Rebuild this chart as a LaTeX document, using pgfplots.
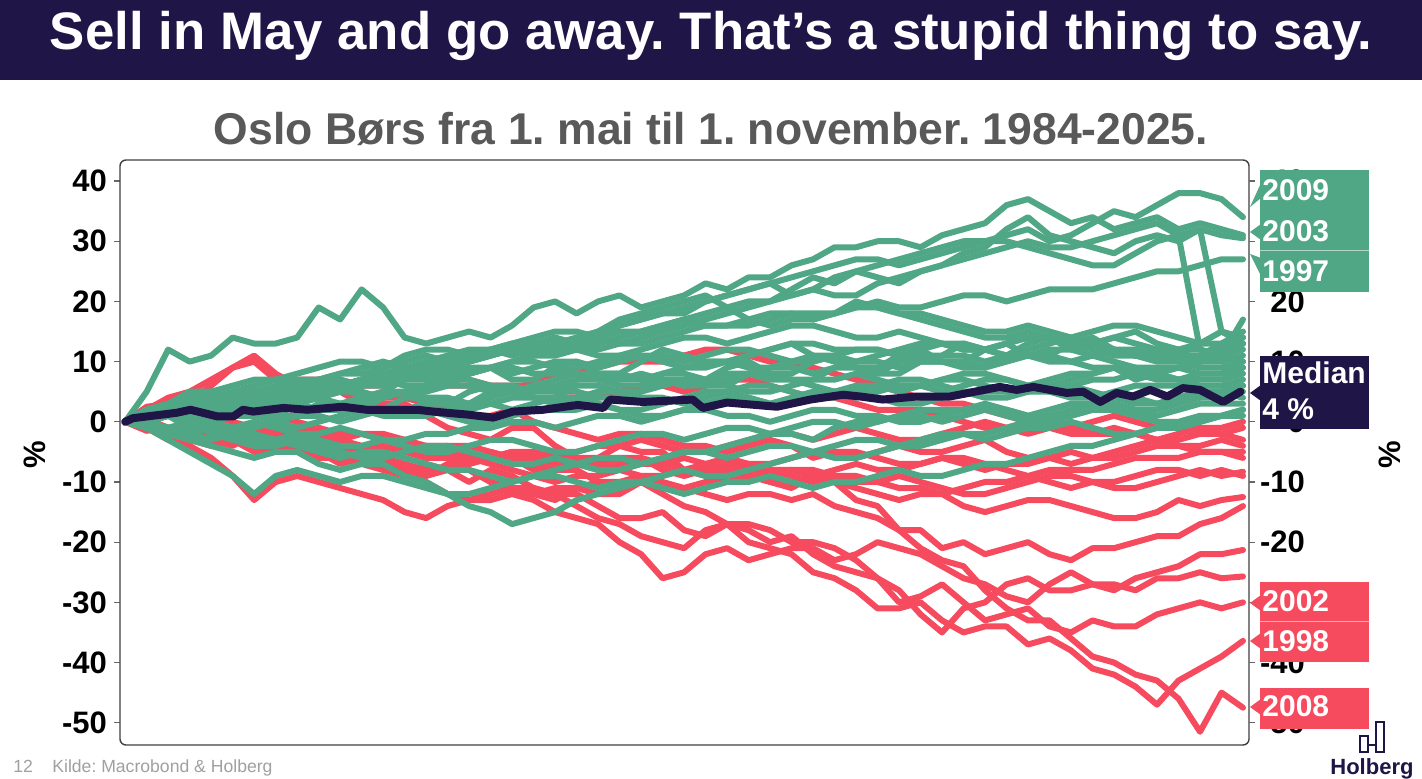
\documentclass[border=0pt]{standalone}
\usepackage{pgfplots}
\pgfplotsset{compat=1.18}
\usepackage{fontspec}
\setmainfont{Liberation Sans}
\frenchspacing
\definecolor{navy}{RGB}{32,21,71}
\definecolor{gr}{RGB}{80,167,133}
\definecolor{rd}{RGB}{246,74,94}
\definecolor{subgray}{RGB}{89,89,89}
\definecolor{footgray}{RGB}{160,160,160}
\pgfplotsset{
  rl/.style={color=rd, line width=3pt, line join=round, line cap=round},
  gl/.style={color=gr, line width=3pt, line join=round, line cap=round},
  table/yrow/.style={x expr=\coordindex*2.5, y index=0, header=false, row sep=\\},
  tl/.style={font=\fontsize{15.5}{16}\selectfont\bfseries, text=black},
}
\begin{document}
\begin{tikzpicture}
\useasboundingbox (0,0) rectangle (711pt,389.5pt);
\fill[white] (0,0) rectangle (711pt,389.5pt);
\begin{axis}[
  at={(60pt,17pt)}, anchor=south west, scale only axis,
  width=564.5pt, height=292.5pt,
  xmin=-0.6, xmax=130.7, ymin=-53.7, ymax=43.5,
  xtick=\empty, ytick={-50,-40,...,40}, ytick pos=left,
  axis line style={draw=none},
  tick align=outside, major tick length=3pt,
  ytick style={black!60, line width=0.6pt},
  yticklabel style={tl},
  /pgf/number format/assume math mode=true,
  clip=false,
]
% red series
\addplot[rl] table[yrow]{0\\2.5\\3\\3.5\\6\\9\\10\\7\\7\\7\\5\\3\\3\\3\\1\\-1\\-2\\-3\\-1\\-1\\-4\\-6\\-6\\-4\\-5\\-5\\-8\\-9\\-7\\-7\\-10\\-11\\-9\\-10\\-13\\-14\\-18\\-21\\-23\\-24\\-28\\-31\\-33\\-33\\-36\\-39\\-40\\-42\\-43\\-46\\-51.5\\-45\\-47.5\\};
\addplot[rl] table[yrow]{0\\0.5\\-1\\-2\\-2\\-1\\-1\\-3\\-3\\-2\\-4\\-5\\-3\\-3\\-5\\-6\\-7\\-5\\-6\\-8\\-8\\-8\\-10\\-11\\-10\\-12\\-14\\-15\\-17\\-20\\-21\\-22\\-25\\-26\\-28\\-31\\-31\\-30\\-33\\-35\\-34\\-34\\-37\\-36\\-38\\-41\\-42\\-44\\-47\\-43\\-41\\-39\\-36.4\\};
\addplot[rl] table[yrow]{0\\-1.5\\-1\\-1\\-3\\-4\\-2\\-2\\-4\\-5\\-6\\-5\\-8\\-9\\-7\\-8\\-10\\-8\\-9\\-11\\-12\\-12\\-14\\-16\\-16\\-15\\-18\\-19\\-17\\-18\\-20\\-19\\-22\\-24\\-25\\-26\\-30\\-29\\-27\\-30\\-33\\-32\\-31\\-34\\-35\\-33\\-34\\-34\\-32\\-31\\-30\\-31\\-30\\};
\addplot[rl] table[yrow]{0\\-1\\-2\\-2\\-1\\-1\\-3\\-4\\-5\\-5\\-7\\-6\\-6\\-8\\-9\\-8\\-8\\-10\\-11\\-11\\-12\\-14\\-16\\-17\\-19\\-20\\-21\\-18\\-17\\-17\\-18\\-20\\-20\\-21\\-23\\-26\\-28\\-32\\-35\\-31\\-30\\-27\\-26\\-28\\-28\\-27\\-27\\-28\\-26\\-26\\-25\\-26\\-25.7\\};
\addplot[rl] table[yrow]{0\\1.5\\1\\0\\-1\\-2\\-2\\-2\\-4\\-3\\-5\\-6\\-7\\-8\\-9\\-7\\-8\\-10\\-12\\-13\\-15\\-16\\-17\\-20\\-22\\-26\\-25\\-22\\-21\\-23\\-22\\-21\\-21\\-23\\-22\\-20\\-21\\-22\\-24\\-26\\-27\\-29\\-30\\-27\\-25\\-27\\-28\\-26\\-25\\-24\\-22\\-22\\-21.3\\};
\addplot[rl] table[yrow]{0\\-1\\-1\\-2\\-3\\-3\\-5\\-5\\-4\\-6\\-6\\-7\\-8\\-8\\-10\\-12\\-13\\-12\\-11\\-12\\-13\\-11\\-12\\-12\\-10\\-11\\-11\\-12\\-13\\-12\\-12\\-13\\-12\\-14\\-15\\-16\\-18\\-18\\-21\\-20\\-22\\-21\\-20\\-22\\-23\\-21\\-21\\-20\\-19\\-19\\-17\\-16\\-14\\};
\addplot[rl] table[yrow]{0\\1\\2\\2\\1\\0\\-1\\-2\\-2\\-1\\-3\\-4\\-5\\-5\\-4\\-4\\-6\\-6\\-5\\-6\\-7\\-7\\-8\\-7\\-6\\-8\\-9\\-8\\-8\\-9\\-10\\-10\\-9\\-10\\-11\\-12\\-13\\-12\\-12\\-14\\-15\\-14\\-13\\-13\\-14\\-15\\-16\\-16\\-15\\-13\\-14\\-13\\-12.5\\};
\addplot[rl] table[yrow]{0\\0\\-1\\-2\\-2\\-1\\-1\\-2\\-3\\-4\\-5\\-4\\-4\\-5\\-6\\-6\\-7\\-6\\-5\\-7\\-8\\-7\\-7\\-8\\-9\\-9\\-8\\-7\\-6\\-7\\-8\\-9\\-10\\-9\\-9\\-10\\-11\\-11\\-12\\-11\\-10\\-10\\-9\\-10\\-11\\-10\\-10\\-9\\-8\\-8\\-9\\-8\\-9\\};
\addplot[rl] table[yrow]{0\\0\\1\\2\\3\\3\\2\\1\\0\\-1\\-2\\-2\\-3\\-4\\-5\\-4\\-4\\-5\\-6\\-6\\-5\\-6\\-7\\-6\\-6\\-7\\-8\\-8\\-7\\-8\\-9\\-8\\-8\\-9\\-10\\-10\\-9\\-10\\-11\\-12\\-12\\-11\\-10\\-9\\-9\\-10\\-11\\-11\\-10\\-9\\-8\\-9\\-8.3\\};
\addplot[rl] table[yrow]{0\\2\\4\\5\\7\\9\\11\\8\\6\\6\\5\\4\\4\\4\\3\\2\\1\\1\\2\\0\\-1\\-2\\-3\\-2\\-2\\-3\\-4\\-4\\-5\\-4\\-3\\-4\\-6\\-5\\-5\\-6\\-7\\-7\\-6\\-7\\-8\\-7\\-7\\-6\\-5\\-6\\-6\\-5\\-4\\-4\\-5\\-5\\-5\\};
\addplot[rl] table[yrow]{0\\1\\2\\2\\3\\4\\5\\5\\6\\7\\7\\6\\6\\7\\8\\8\\7\\6\\6\\6\\5\\5\\4\\5\\6\\6\\5\\6\\7\\7\\6\\5\\4\\4\\3\\2\\2\\2\\1\\0\\-1\\-1\\0\\-1\\-2\\-2\\-1\\-2\\-3\\-3\\-2\\-2\\-3\\};
\addplot[rl] table[yrow]{0\\-1\\-2\\-3\\-4\\-3\\-3\\-4\\-5\\-5\\-4\\-5\\-6\\-7\\-8\\-8\\-7\\-6\\-5\\-5\\-6\\-5\\-4\\-4\\-3\\-4\\-5\\-5\\-4\\-3\\-2\\-2\\-3\\-2\\-1\\-2\\-3\\-3\\-2\\-1\\0\\-1\\-2\\-1\\-1\\0\\1\\0\\-1\\-1\\-2\\-2\\-1\\};
\addplot[rl] table[yrow]{0\\-1\\-3\\-4\\-6\\-9\\-13\\-10\\-9\\-10\\-11\\-12\\-13\\-15\\-16\\-14\\-13\\-13\\-12\\-12\\-11\\-11\\-10\\-10\\-9\\-10\\-11\\-10\\-10\\-9\\-8\\-8\\-9\\-8\\-7\\-8\\-8\\-7\\-6\\-6\\-7\\-8\\-9\\-8\\-8\\-8\\-7\\-6\\-6\\-6\\-5\\-5\\-6\\};
\addplot[rl] table[yrow]{0\\1\\1\\0\\-1\\-2\\-2\\-1\\-1\\-2\\-3\\-2\\-2\\-3\\-4\\-5\\-6\\-7\\-8\\-9\\-10\\-9\\-9\\-8\\-7\\-7\\-6\\-7\\-8\\-7\\-7\\-6\\-5\\-5\\-6\\-5\\-4\\-5\\-5\\-4\\-3\\-5\\-6\\-6\\-7\\-6\\-5\\-4\\-3\\-4\\-4\\-3\\-4\\};
\addplot[rl] table[yrow]{0\\1\\2\\3\\4\\3\\3\\4\\5\\5\\6\\7\\8\\8\\7\\6\\6\\6\\5\\7\\8\\8\\9\\10\\10\\10\\11\\12\\12\\11\\10\\10\\9\\8\\7\\6\\5\\4\\3\\3\\2\\1\\0\\0\\-1\\-2\\-2\\-2\\-3\\-2\\-1\\-1\\0\\};
% green series
\addplot[gl] table[yrow]{0\\5\\12\\10\\11\\14\\13\\13\\14\\19\\17\\22\\19\\14\\13\\14\\15\\14\\16\\19\\20\\18\\20\\21\\19\\20\\21\\23\\22\\24\\24\\26\\27\\29\\29\\30\\30\\29\\31\\32\\33\\36\\37\\35\\33\\34\\32\\33\\34\\32\\33\\32\\31\\};
\addplot[gl] table[yrow]{0\\1\\3\\5\\5\\4\\4\\5\\6\\7\\8\\9\\10\\9\\9\\10\\11\\12\\12\\13\\14\\13\\15\\16\\17\\18\\18\\20\\21\\22\\23\\21\\22\\24\\25\\26\\27\\28\\29\\30\\30\\31\\32\\30\\31\\33\\35\\34\\36\\38\\38\\37\\34\\};
\addplot[gl] table[yrow]{0\\2\\2\\1\\1\\2\\3\\3\\4\\5\\6\\6\\7\\8\\8\\9\\10\\11\\12\\12\\13\\12\\12\\13\\14\\15\\16\\17\\18\\19\\20\\22\\24\\23\\25\\24\\23\\25\\26\\28\\29\\32\\34\\31\\30\\29\\28\\30\\31\\30\\32\\31\\30.5\\};
\addplot[gl] table[yrow]{0\\0\\1\\2\\3\\2\\2\\3\\4\\4\\5\\6\\7\\8\\9\\8\\8\\9\\10\\11\\12\\13\\14\\13\\13\\14\\15\\16\\16\\16\\17\\18\\18\\18\\19\\20\\19\\19\\20\\21\\21\\20\\21\\22\\22\\22\\23\\24\\25\\25\\26\\27\\27\\};
\addplot[gl] table[yrow]{0\\1\\2\\3\\4\\3\\3\\4\\5\\6\\7\\6\\6\\7\\8\\9\\10\\11\\12\\11\\11\\12\\13\\14\\15\\16\\17\\18\\19\\20\\20\\21\\22\\21\\21\\23\\24\\25\\26\\27\\28\\29\\30\\29\\29\\30\\31\\32\\33\\31\\12\\11\\17\\};
\addplot[gl] table[yrow]{0\\0\\1\\2\\2\\3\\4\\4\\5\\5\\6\\7\\8\\9\\10\\11\\12\\12\\11\\12\\13\\14\\15\\17\\18\\19\\20\\21\\19\\17\\16\\17\\17\\18\\20\\19\\18\\18\\17\\16\\15\\15\\16\\15\\14\\13\\12\\11\\10\\10\\11\\13\\15\\};
\addplot[gl] table[yrow]{0\\1\\1\\2\\3\\4\\5\\5\\4\\5\\6\\7\\8\\8\\9\\10\\11\\12\\13\\14\\15\\15\\14\\16\\17\\18\\19\\20\\21\\22\\23\\24\\25\\26\\27\\27\\26\\27\\28\\29\\30\\30\\29\\28\\27\\26\\26\\28\\30\\31\\32\\15\\13\\};
\addplot[gl] table[yrow]{0\\2\\3\\4\\5\\6\\7\\7\\6\\7\\8\\8\\9\\10\\11\\10\\10\\11\\12\\13\\13\\12\\11\\11\\12\\13\\14\\14\\13\\14\\15\\16\\16\\15\\14\\14\\15\\14\\13\\12\\12\\13\\14\\14\\13\\12\\11\\11\\12\\11\\10\\11\\12\\};
\addplot[gl] table[yrow]{0\\1\\2\\3\\4\\5\\6\\7\\8\\9\\10\\10\\9\\11\\12\\12\\11\\12\\13\\12\\12\\13\\14\\15\\15\\16\\17\\16\\16\\17\\18\\18\\17\\18\\19\\19\\18\\17\\16\\15\\14\\14\\15\\14\\13\\13\\14\\13\\12\\11\\11\\12\\13\\};
\addplot[gl] table[yrow]{0\\2\\3\\2\\2\\3\\4\\5\\6\\5\\5\\6\\7\\8\\9\\8\\8\\9\\10\\10\\9\\8\\7\\7\\8\\7\\6\\6\\7\\8\\9\\9\\8\\9\\10\\10\\9\\10\\11\\11\\10\\11\\12\\13\\14\\15\\16\\16\\15\\14\\13\\13\\14\\};
\addplot[gl] table[yrow]{0\\1\\1\\0\\2\\3\\1\\1\\3\\4\\2\\2\\4\\5\\3\\3\\5\\6\\6\\5\\5\\7\\7\\6\\6\\8\\8\\7\\9\\10\\8\\8\\10\\11\\9\\9\\11\\12\\10\\10\\12\\13\\11\\11\\13\\14\\12\\11\\11\\12\\13\\15\\14\\};
\addplot[gl] table[yrow]{0\\2\\2\\1\\1\\2\\3\\5\\4\\4\\6\\4\\5\\7\\7\\6\\8\\9\\7\\7\\9\\10\\8\\8\\10\\12\\11\\10\\10\\11\\12\\13\\11\\10\\9\\8\\10\\11\\11\\13\\12\\11\\13\\14\\12\\13\\14\\15\\13\\12\\12\\11\\13\\};
\addplot[gl] table[yrow]{0\\1\\1\\-1\\0\\1\\2\\3\\3\\2\\2\\3\\4\\5\\5\\6\\6\\5\\5\\6\\7\\8\\8\\7\\7\\8\\9\\10\\10\\9\\9\\10\\11\\11\\10\\11\\12\\13\\13\\12\\12\\13\\14\\14\\13\\13\\12\\11\\11\\12\\10\\10\\11\\};
\addplot[gl] table[yrow]{0\\-1\\-1\\0\\1\\2\\2\\1\\1\\3\\3\\2\\2\\4\\4\\3\\3\\5\\5\\4\\4\\6\\6\\5\\5\\7\\7\\6\\6\\8\\8\\7\\7\\9\\9\\8\\8\\10\\10\\9\\9\\11\\11\\10\\10\\9\\9\\7\\8\\9\\10\\11\\10\\};
\addplot[gl] table[yrow]{0\\1\\2\\3\\3\\4\\5\\5\\4\\5\\6\\7\\7\\6\\6\\7\\8\\9\\9\\8\\8\\9\\10\\11\\11\\10\\9\\9\\10\\11\\12\\13\\13\\12\\12\\12\\11\\10\\10\\10\\9\\10\\11\\12\\12\\11\\10\\9\\9\\9\\8\\8\\9\\};
\addplot[gl] table[yrow]{0\\1\\1\\2\\3\\3\\2\\3\\4\\4\\3\\4\\5\\5\\4\\4\\3\\4\\5\\5\\6\\5\\4\\4\\5\\6\\7\\7\\6\\5\\5\\6\\7\\7\\8\\7\\6\\6\\7\\8\\8\\7\\6\\6\\7\\8\\9\\9\\8\\7\\7\\7\\8\\};
\addplot[gl] table[yrow]{0\\0\\-1\\-1\\0\\1\\1\\0\\-1\\0\\1\\2\\2\\1\\1\\2\\3\\3\\2\\3\\4\\4\\3\\2\\2\\3\\4\\5\\5\\4\\3\\3\\4\\5\\6\\6\\5\\6\\7\\7\\6\\5\\5\\5\\6\\7\\7\\8\\8\\7\\6\\6\\7\\};
\addplot[gl] table[yrow]{0\\1\\2\\1\\0\\-1\\-1\\0\\1\\1\\0\\1\\2\\2\\3\\3\\2\\3\\4\\4\\3\\4\\5\\5\\4\\4\\3\\4\\5\\6\\6\\5\\4\\4\\5\\4\\3\\3\\4\\5\\5\\5\\6\\5\\4\\4\\5\\6\\6\\6\\5\\5\\6\\};
\addplot[gl] table[yrow]{0\\1\\1\\1\\2\\3\\4\\4\\3\\4\\5\\5\\4\\5\\6\\7\\7\\6\\5\\5\\6\\7\\8\\8\\7\\7\\6\\7\\8\\8\\7\\7\\6\\5\\5\\6\\7\\7\\6\\5\\4\\4\\5\\6\\6\\5\\4\\3\\3\\4\\5\\5\\4\\};
\addplot[gl] table[yrow]{0\\-1\\-2\\-2\\-1\\-2\\-3\\-3\\-2\\-3\\-4\\-4\\-3\\-4\\-5\\-5\\-4\\-3\\-3\\-4\\-5\\-5\\-4\\-3\\-2\\-2\\-3\\-2\\-1\\-1\\-2\\-1\\0\\0\\-1\\0\\1\\1\\0\\1\\2\\2\\1\\2\\3\\3\\2\\1\\1\\2\\3\\3\\3\\};
\addplot[gl] table[yrow]{0\\1\\1\\0\\-1\\-1\\0\\-1\\-2\\-2\\-1\\-2\\-3\\-3\\-2\\-2\\-1\\-1\\0\\0\\-1\\0\\1\\1\\0\\1\\2\\2\\1\\1\\0\\1\\2\\2\\1\\1\\0\\0\\1\\2\\2\\1\\0\\0\\1\\2\\2\\1\\0\\0\\1\\1\\2\\};
\addplot[gl] table[yrow]{0\\1\\1\\0\\-2\\-3\\-4\\-4\\-3\\-4\\-5\\-6\\-6\\-5\\-4\\-4\\-5\\-6\\-7\\-7\\-6\\-7\\-8\\-8\\-7\\-6\\-5\\-5\\-6\\-5\\-4\\-4\\-5\\-4\\-3\\-3\\-4\\-3\\-2\\-2\\-3\\-2\\-1\\-1\\0\\-1\\-2\\-2\\-1\\-1\\0\\1\\1\\};
\addplot[gl] table[yrow]{0\\-1\\-3\\-5\\-7\\-9\\-12\\-9\\-8\\-9\\-10\\-9\\-9\\-10\\-11\\-12\\-12\\-11\\-10\\-9\\-8\\-7\\-6\\-6\\-7\\-6\\-5\\-5\\-4\\-3\\-2\\-2\\-3\\-1\\0\\0\\1\\2\\2\\2\\3\\2\\1\\1\\2\\3\\4\\4\\3\\4\\5\\5\\6\\};
\addplot[gl] table[yrow]{0\\-1\\-2\\-3\\-4\\-5\\-6\\-5\\-5\\-7\\-8\\-7\\-7\\-9\\-10\\-12\\-14\\-15\\-17\\-16\\-15\\-13\\-12\\-11\\-10\\-9\\-8\\-9\\-9\\-8\\-7\\-6\\-5\\-6\\-6\\-5\\-4\\-4\\-3\\-2\\-2\\-1\\0\\1\\1\\2\\3\\2\\2\\3\\4\\4\\5\\};
\addplot[gl] table[yrow]{0\\0\\-1\\-2\\-3\\-2\\-2\\-3\\-4\\-5\\-6\\-5\\-5\\-6\\-7\\-8\\-8\\-9\\-10\\-9\\-9\\-10\\-11\\-10\\-10\\-11\\-12\\-11\\-10\\-10\\-9\\-10\\-11\\-10\\-10\\-9\\-8\\-9\\-9\\-8\\-7\\-7\\-6\\-5\\-4\\-4\\-3\\-2\\-1\\-1\\0\\1\\2\\};
\addplot[gl] table[yrow]{0\\1\\2\\3\\4\\4\\5\\6\\7\\7\\6\\7\\8\\8\\7\\8\\9\\9\\8\\9\\10\\10\\9\\10\\11\\11\\10\\11\\12\\12\\11\\10\\10\\11\\12\\12\\11\\12\\13\\13\\12\\11\\11\\11\\10\\11\\12\\12\\11\\10\\9\\9\\10\\};
\addplot[gl] table[yrow]{0\\0\\1\\2\\3\\4\\4\\3\\2\\2\\3\\2\\1\\1\\2\\1\\0\\0\\1\\2\\2\\2\\3\\2\\1\\1\\2\\3\\4\\4\\3\\4\\5\\5\\4\\5\\6\\6\\5\\6\\7\\7\\6\\7\\8\\8\\9\\8\\7\\7\\8\\8\\9\\};
% median
\addplot[color=navy, line width=4pt, line join=round, line cap=round] coordinates {
(0,0)(0.9,0.6)(6,1.5)(7.6,2.0)(10.7,0.9)(12.6,0.9)(13.7,2.0)(14.9,1.7)(18.4,2.3)(21.2,2.0)(25.3,2.5)(28.1,2.0)(34,2.0)(35.8,1.7)(39.8,1.2)(42.8,0.7)(45.1,1.7)(48.6,2.0)(52.6,2.8)(55.6,2.3)(56.4,3.7)(60.2,3.3)(66,3.7)(67.2,2.3)(70,3.2)(75.8,2.5)(79.7,3.7)(83.5,4.5)(85.5,4.2)(88.1,3.7)(92.1,4.2)(95.9,4.2)(101.7,5.8)(103.7,5.3)(105.6,5.8)(109.5,4.8)(111.4,5.0)(113.4,3.3)(115.3,4.8)(117.2,4.2)(119.2,5.3)(121.2,4.2)(123,5.6)(125,5.3)(127.7,3.3)(129.7,5.0)};
\draw[black!75, line width=0.7pt, rounded corners=3pt] (rel axis cs:0,0) rectangle (rel axis cs:1,1);
\end{axis}
\begin{axis}[
  at={(60pt,17pt)}, anchor=south west, scale only axis,
  width=564.5pt, height=292.5pt,
  xmin=-0.6, xmax=130.7, ymin=-53.7, ymax=43.5,
  axis x line=none, axis y line*=right,
  axis line style={draw=none},
  ytick={-50,-40,...,40},
  tick align=outside, major tick length=3pt,
  ytick style={black!60, line width=0.6pt},
  yticklabel style={tl, anchor=east, xshift=28.5pt},
  /pgf/number format/assume math mode=true,
]
\end{axis}
\begin{scope}[x=0.5pt, y=-0.5pt, shift={(0pt,389.5pt)}]
% title bar
\fill[navy] (0,0) rectangle (1422,80);
\node[anchor=base, text=white, font=\fontsize{26.4}{30}\selectfont\bfseries, inner sep=0] at (711,50) {Sell in May and go away. That’s a stupid thing to say.};
\node[anchor=base, text=subgray, font=\fontsize{22.25}{26}\selectfont\bfseries, inner sep=0] at (711,145) {Oslo Børs fra 1. mai til 1. november. 1984-2025.};
% y labels
\node[rotate=90, font=\fontsize{15.5}{16}\selectfont\bfseries, inner sep=0] at (35,455) {\%};
\node[rotate=90, font=\fontsize{15.5}{16}\selectfont\bfseries, inner sep=0] at (1390,455) {\%};
% green labels
\fill[gr] (1260,170) rectangle (1369,292);
\draw[white!55!gr, line width=0.5pt] (1260,251) -- (1369,251);
\fill[gr] (1261,183) -- (1250,207) -- (1261,198) -- cycle;
\fill[gr] (1261,224) -- (1250,232) -- (1261,240) -- cycle;
\fill[gr] (1261,258) -- (1250,254) -- (1261,276) -- cycle;
\node[anchor=base west, text=white, font=\fontsize{15}{16}\selectfont\bfseries, inner sep=0] at (1262,201) {2009};
\node[anchor=base west, text=white, font=\fontsize{15}{16}\selectfont\bfseries, inner sep=0] at (1262,242) {2003};
\node[anchor=base west, text=white, font=\fontsize{15}{16}\selectfont\bfseries, inner sep=0] at (1262,282) {1997};
% median label
\fill[navy] (1260,356) rectangle (1369,429);
\fill[navy] (1261,385) -- (1250,393) -- (1261,401) -- cycle;
\node[anchor=base west, text=white, font=\fontsize{15}{16}\selectfont\bfseries, inner sep=0] at (1262,384) {Median};
\node[anchor=base west, text=white, font=\fontsize{15}{16}\selectfont\bfseries, inner sep=0] at (1262,420) {4 \%};
% red labels
\fill[rd] (1260,582) rectangle (1369,662);
\draw[white!55!rd, line width=0.5pt] (1260,622) -- (1369,622);
\fill[rd] (1260,688) rectangle (1369,729);
\fill[rd] (1261,595) -- (1250,603) -- (1261,611) -- cycle;
\fill[rd] (1261,633) -- (1250,641) -- (1261,649) -- cycle;
\fill[rd] (1261,699) -- (1250,707) -- (1261,715) -- cycle;
\node[anchor=base west, text=white, font=\fontsize{15}{16}\selectfont\bfseries, inner sep=0] at (1262,612) {2002};
\node[anchor=base west, text=white, font=\fontsize{15}{16}\selectfont\bfseries, inner sep=0] at (1262,652) {1998};
\node[anchor=base west, text=white, font=\fontsize{15}{16}\selectfont\bfseries, inner sep=0] at (1262,717) {2008};
% footer
\node[anchor=base west, text=footgray, font=\fontsize{8.8}{10}\selectfont, inner sep=0] at (13,773) {12};
\node[anchor=base west, text=footgray, font=\fontsize{8.8}{10}\selectfont, inner sep=0] at (52,773) {Kilde: Macrobond \& Holberg};
% logo
\draw[navy, line width=1.4pt] (1360,752) rectangle (1368,736);
\draw[navy, line width=1.4pt] (1376,752) rectangle (1384,722);
\draw[navy, line width=1.4pt] (1368,745) -- (1376,745);
\node[anchor=base west, text=navy, font=\fontsize{11}{12}\selectfont\bfseries, inner sep=0] at (1330,775) {Holberg};
\end{scope}
\end{tikzpicture}
\end{document}
